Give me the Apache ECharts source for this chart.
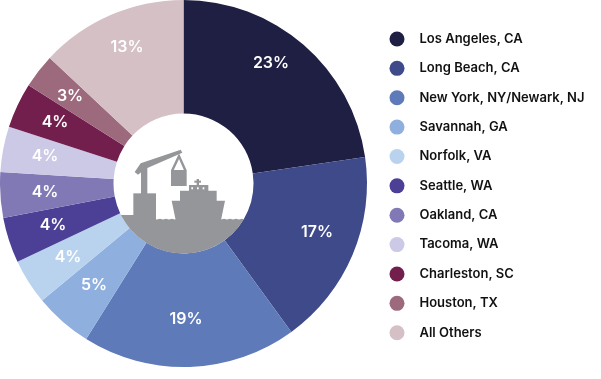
<!DOCTYPE html>
<html>
<head>
<meta charset="utf-8">
<script src="https://cdn.jsdelivr.net/npm/echarts@6/dist/echarts.min.js"></script>
<style>
  html, body { margin: 0; padding: 0; background: #fff; }
  #echart { width: 601px; height: 379px; }
</style>
</head>
<body>
<div id="echart"></div>
<script>
const ports = ['Los Angeles, CA', 'Long Beach, CA', 'New York, NY/Newark, NJ', 'Savannah, GA', 'Norfolk, VA',
    'Seattle, WA', 'Oakland, CA', 'Tacoma, WA', 'Charleston, SC', 'Houston, TX', 'All Others'];
// shown rounded; slightly finer than the labels to match the slice edges
const shares = [22.7, 17.3, 18.9, 5.1, 4, 4, 4, 4, 4, 3, 13];
const colors = ['#1e1f42', '#3e4a8a', '#5f7ab9', '#8fb0de', '#b9d3ee', '#4b3f96',
    '#8079b5', '#cbc9e5', '#731f4e', '#9c6a7c', '#d5c0c6'];

// label spots were placed by hand in the original, not on the ring's middle
const labelSpots = [[271, 63], [317, 232], [186, 319], [94, 285], [68, 257], [53, 225],
    [45, 192], [45, 156], [55, 122], [70, 96], [127, 47]];

const cx = 183.5, cy = 183.5;
const iconGrey = '#959699';

// icon sketch was measured on a 3x crop, so convert back to page pixels
function pts(list) {
    return list.map(p => [100 + p[0] / 3, 110 + p[1] / 3]);
}
function poly(list, fill) {
    return { type: 'polygon', shape: { points: pts(list) }, style: { fill: fill || iconGrey }, z: 20 };
}
function box(x0, y0, x1, y1, fill) {
    return poly([[x0, y0], [x1, y0], [x1, y1], [x0, y1]], fill);
}

// ground under the ship: flat top with little waves, circle edge at the bottom
function groundPoints() {
    const out = [[121, 215], [156, 215], [156, 219.6]];
    for (let x = 157; x < 176; x += 6) {
        out.push([x, 219.6], [x + 3, 218.7], [x + 6, 219.6]);
    }
    for (let x = 221; x < 241; x += 6) {
        out.push([x, 219.6], [x + 3, 218.7], [x + 6, 219.6]);
    }
    const start = Math.asin(36 / 70);
    const end = Math.PI - Math.asin(31.5 / 70);
    for (let i = 0; i <= 60; i++) {
        const a = start + (end - start) * i / 60;
        out.push([cx + 70 * Math.cos(a), cy + 70 * Math.sin(a)]);
    }
    return out;
}

const icon = [
    { type: 'polygon', shape: { points: groundPoints() }, style: { fill: iconGrey }, z: 20 },
    // crane
    box(100, 250, 168, 320),
    box(123, 172, 142, 252),
    poly([[104, 186], [122, 160], [242, 119], [247, 128], [137, 176], [114, 194]]),
    poly([[237, 130], [213, 181], [221, 181], [237, 147], [252, 181], [260, 181]]),
    box(213, 180, 260, 228),
    // ship
    poly([[215, 272], [375, 272], [362, 335], [228, 335]]),
    box(240, 242, 350, 274),
    box(267, 225, 325, 244),
    box(290, 207, 297, 226),
    box(283, 212, 303, 218),
    box(274, 232, 279, 238, '#fff'),
    box(291, 232, 296, 238, '#fff'),
    box(308, 232, 313, 238, '#fff')
];

const chart = echarts.init(document.getElementById('echart'));

const option = {
    animation: false,
    color: colors,
    legend: {
        orient: 'vertical',
        left: 389.5,
        top: 31.5,
        itemWidth: 15,
        itemHeight: 15,
        itemGap: 14.37,
        icon: 'circle',
        padding: 0,
        data: ports,
        selectedMode: false,
        textStyle: {
            fontFamily: 'Inter',
            fontWeight: 600,
            fontSize: 13,
            lineHeight: 14,
            color: '#111',
            padding: [1, 0, 0, 10]
        }
    },
    series: [{
        type: 'pie',
        center: [cx, cy],
        radius: [70, 183.5],
        startAngle: 90,
        silent: true,
        data: ports.map((name, i) => ({ name: name, value: shares[i] })),
        label: {
            position: 'inside',
            formatter: p => Math.round(p.value) + '%',
            color: '#fff',
            textBorderWidth: 0,
            fontFamily: 'Inter',
            fontWeight: 600,
            fontSize: 16
        },
        labelLine: { show: false },
        labelLayout: function (params) {
            const spot = labelSpots[params.dataIndex];
            return { x: spot[0], y: spot[1], align: 'center', verticalAlign: 'middle' };
        }
    }],
    graphic: icon
};

chart.setOption(option);
</script>
</body>
</html>
